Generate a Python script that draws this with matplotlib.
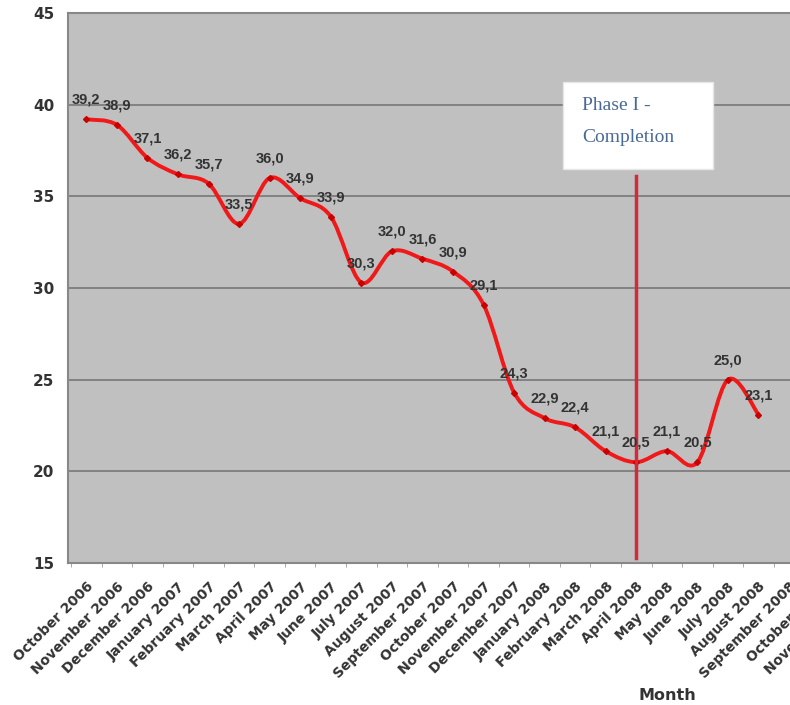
import numpy as np
import matplotlib
matplotlib.use('Agg')
import matplotlib.pyplot as plt
from matplotlib.path import Path
from matplotlib.patches import PathPatch, Rectangle

# monthly values
months = ['October 2006', 'November 2006', 'December 2006', 'January 2007', 'February 2007',
          'March 2007', 'April 2007', 'May 2007', 'June 2007', 'July 2007', 'August 2007',
          'September 2007', 'October 2007', 'November 2007', 'December 2007', 'January 2008',
          'February 2008', 'March 2008', 'April 2008', 'May 2008', 'June 2008', 'July 2008',
          'August 2008', 'September 2008', 'October 2008', 'November 2008']
values = [39.2, 38.9, 37.1, 36.2, 35.7, 33.5, 36.0, 34.9, 33.9, 30.3, 32.0, 31.6, 30.9,
          29.1, 24.3, 22.9, 22.4, 21.1, 20.5, 21.1, 20.5, 25.0, 23.1]
phase_month = 'April 2008'
phase_text = ['Phase I -', 'Completion']

W, H = 790, 705
fig = plt.figure(figsize=(W / 100, H / 100), dpi=100)
fig.patch.set_facecolor('white')

# plot area runs past the right edge of the figure
left, top, bottom = 68, 13, 563
cat_w = 30.67
ax = fig.add_axes([left / W, 1 - bottom / H, len(months) * cat_w / W, (bottom - top) / H])
ax.set_facecolor('#c0c0c0')
ax.set_xlim(-0.6, len(months) - 0.6)
ax.set_ylim(15, 45)
ax.set_yticks(np.arange(15, 46, 5))
ax.grid(axis='y', color='#828282', linewidth=1.4)
ax.set_axisbelow(True)
for s in ax.spines.values():
    s.set_color('#888888')
    s.set_linewidth(1.5)

ax.set_xticks(range(len(months)))
ax.set_xticklabels(months, rotation=45, ha='right', rotation_mode='anchor',
                   fontsize=10, fontweight='bold', color='#333333', family='DejaVu Sans')
ax.set_xticks(np.arange(-0.5, len(months), 1), minor=True)
ax.tick_params(axis='x', which='major', length=0, pad=12)
ax.tick_params(axis='x', which='minor', length=3, color='#9a9a9a')
ax.tick_params(axis='y', length=0, pad=10, labelsize=11, labelcolor='#333333')
for t in ax.get_yticklabels():
    t.set_fontweight('bold')

# smoothed line through the points (Catmull-Rom as cubic Bezier)
pts = np.column_stack([np.arange(len(values)), values]).astype(float)
ext = np.vstack([pts[0], pts, pts[-1]])
verts = [tuple(pts[0])]
codes = [Path.MOVETO]
for i in range(len(pts) - 1):
    p0, p1, p2, p3 = ext[i], ext[i + 1], ext[i + 2], ext[i + 3]
    c1 = p1 + (p2 - p0) / 6
    c2 = p2 - (p3 - p1) / 6
    verts += [tuple(c1), tuple(c2), tuple(p2)]
    codes += [Path.CURVE4] * 3
ax.add_patch(PathPatch(Path(verts, codes), facecolor='none', edgecolor='#f01818',
                       linewidth=2.8, zorder=3, capstyle='round'))
ax.plot(pts[:, 0], pts[:, 1], linestyle='none', marker='D', markersize=3,
        color='#c80000', zorder=4)

for x, v in zip(pts[:, 0], values):
    ax.annotate(f'{v:.1f}'.replace('.', ','), (x, v), xytext=(0, 14), textcoords='offset points',
                ha='center', va='center', fontsize=10.5, fontweight='bold',
                color='#333333', family='Liberation Sans', zorder=5)

# phase marker
px = months.index(phase_month)
ax.plot([px, px], [15.3, 36.1], color='#d22a3a', linewidth=2.5, zorder=4)
fig.add_artist(Rectangle((563 / W, 1 - 169 / H), 150 / W, 87 / H, transform=fig.transFigure,
                         facecolor='white', edgecolor='#e6e6e6', linewidth=1, zorder=6))
fig.text(582 / W, 1 - 110 / H, phase_text[0], family='Liberation Serif', fontsize=14,
         color='#4a6a96', va='baseline', zorder=7)
fig.text(582 / W, 1 - 142 / H, phase_text[1], family='Liberation Serif', fontsize=14,
         color='#4a6a96', va='baseline', zorder=7)

fig.text(667 / W, 1 - 695 / H, 'Month', ha='center', va='center', fontsize=11.5,
         fontweight='bold', color='#333333')

fig.savefig('out.png', dpi=100)
